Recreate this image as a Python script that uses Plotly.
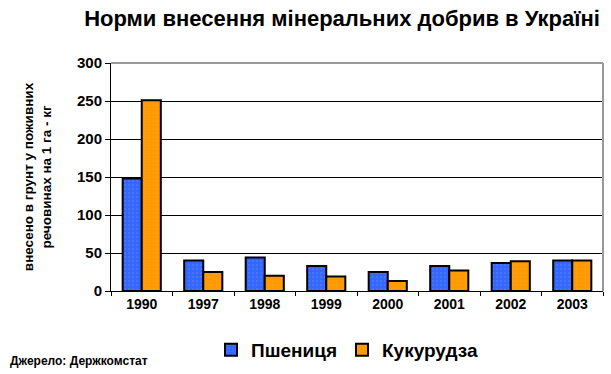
import plotly.graph_objects as go

years = ["1990", "1997", "1998", "1999", "2000", "2001", "2002", "2003"]
wheat = [148, 40, 44, 33, 25, 33, 37, 40]
corn = [251, 25, 20, 19, 13, 27, 39, 40]
y_ticks = [0, 50, 100, 150, 200, 250, 300]

title = "Норми внесення мінеральних добрив в Україні"
ytitle = "внесено в грунт у поживних<br>речовинах на 1 га - кг"
source = "Джерело: Держкомстат"

FONT = "Liberation Sans, Arial, sans-serif"

fig = go.Figure()
fig.add_trace(go.Bar(
    x=years, y=wheat, name="Пшениця",
    marker=dict(color="#3366FF", line=dict(color="black", width=2),
                pattern=dict(shape=".", fgcolor="#5A80FF", size=4, solidity=0.3)),
))
fig.add_trace(go.Bar(
    x=years, y=corn, name="Кукурудза",
    marker=dict(color="#FF9900", line=dict(color="black", width=2),
                pattern=dict(shape="+", fgcolor="#FFB84D", size=4, solidity=0.15)),
))

fig.update_layout(
    width=611, height=374,
    margin=dict(l=111, r=8, t=63, b=83, autoexpand=False),
    paper_bgcolor="white", plot_bgcolor="white",
    barmode="group", bargap=0.38, bargroupgap=0,
    font=dict(family=FONT, color="black"),
    title=dict(text=title, x=342/611, xanchor="center", y=1-18/374, yanchor="middle",
               font=dict(size=22, color="black", weight="bold")),
    showlegend=True,
    legend=dict(orientation="h", x=(347-111)/492, xanchor="center", y=-(350-291)/228, yanchor="middle",
                font=dict(size=19, family=FONT, weight="bold"),
                traceorder="normal", itemwidth=30),
    xaxis=dict(
        type="category", showgrid=False, ticks="outside", ticklen=4, tickcolor="black",
        tickson="boundaries", showline=True, linecolor="black", linewidth=1,
        tickfont=dict(size=14, family=FONT, weight="bold"),
        automargin=False,
    ),
    yaxis=dict(
        range=[0, 300], tickvals=y_ticks, ticks="outside", ticklen=5, tickcolor="black",
        showgrid=True, gridcolor="black", gridwidth=1,
        showline=True, linecolor="black", linewidth=1,
        tickfont=dict(size=15, family=FONT, weight="bold"),
        title=dict(text=ytitle, standoff=22,
                   font=dict(size=13.5, family=FONT, weight="bold")),
        zeroline=False, automargin=False,
    ),
)

# gray frame on top and right of plot area
fig.add_shape(type="line", xref="paper", yref="paper", x0=0, x1=1, y0=1, y1=1,
              line=dict(color="#999999", width=2))
fig.add_shape(type="line", xref="paper", yref="paper", x0=1, x1=1, y0=0, y1=1,
              line=dict(color="#999999", width=2))

fig.add_annotation(text=source, xref="paper", yref="paper",
                   x=(8-111)/492, xanchor="left", y=-(361-291)/228, yanchor="middle",
                   showarrow=False, font=dict(size=12, family=FONT, weight="bold"))

fig.write_html("out.html", config={"displayModeBar": False},
               post_script="document.body.style.margin='0';")
